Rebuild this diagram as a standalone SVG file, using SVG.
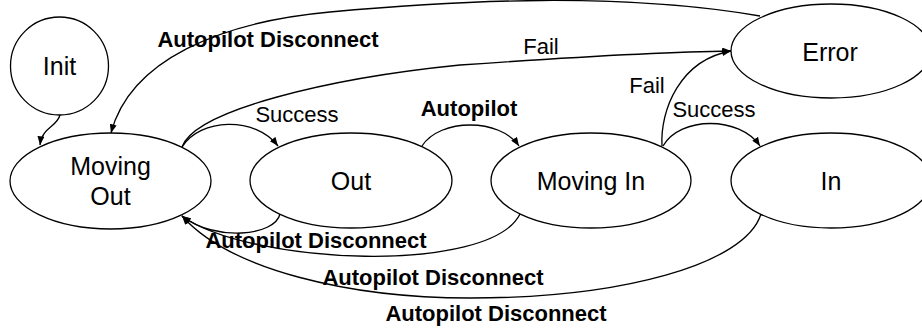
<svg xmlns="http://www.w3.org/2000/svg" width="922" height="329" viewBox="0 0 922 329">
<style>
  .node { fill: #ffffff; stroke: #000000; stroke-width: 1.3; }
  .ntext { font-family: "Liberation Sans", Arial, Helvetica, sans-serif; font-size: 25px; fill: #000000; text-anchor: middle; }
  .edge { fill: none; stroke: #000000; stroke-width: 1.3; }
  .lbl { font-family: "Liberation Sans", Arial, Helvetica, sans-serif; font-size: 22px; fill: #000000; text-anchor: middle; }
  .bold { font-weight: bold; }
</style>
<defs>
  <marker id="arr" viewBox="0 0 10 8" refX="10" refY="4" markerWidth="9" markerHeight="7" orient="auto" markerUnits="userSpaceOnUse">
    <path d="M0,0 L10,4 L0,8 z" fill="#000000"/>
  </marker>
</defs>
<rect width="922" height="329" fill="#ffffff"/>

<g id="node-init">
  <circle class="node" cx="59.5" cy="66" r="49"/>
  <text class="ntext" x="59.5" y="75">Init</text>
</g>
<g id="node-moving-out">
  <ellipse class="node" cx="110.5" cy="181" rx="100.5" ry="48"/>
  <text class="ntext" x="110.5" y="175">Moving</text>
  <text class="ntext" x="110.5" y="205">Out</text>
</g>
<g id="node-out">
  <ellipse class="node" cx="351" cy="180.5" rx="101" ry="47.5"/>
  <text class="ntext" x="351" y="190">Out</text>
</g>
<g id="node-moving-in">
  <ellipse class="node" cx="591" cy="180.5" rx="100" ry="47.5"/>
  <text class="ntext" x="591" y="190">Moving In</text>
</g>
<g id="node-in">
  <ellipse class="node" cx="831" cy="180.5" rx="100" ry="47.5"/>
  <text class="ntext" x="831" y="190">In</text>
</g>
<g id="node-error">
  <ellipse class="node" cx="831" cy="51" rx="100" ry="47"/>
  <text class="ntext" x="830" y="61">Error</text>
</g>

<g id="connectors">
  <path class="edge" marker-end="url(#arr)" d="M60,115 C57,127 42,127 40,145"/>
  <path class="edge" marker-end="url(#arr)" d="M760,16 C620,-8 460,0 330,12 C220,22 130,60 111,133"/>
  <path class="edge" marker-end="url(#arr)" d="M182,147 C195,110 330,78 460,65 C560,58 650,52 731,51"/>
  <path class="edge" marker-end="url(#arr)" d="M182,147 C200,118 255,116 278,146"/>
  <path class="edge" marker-end="url(#arr)" d="M422,146 C440,118 500,118 519,146"/>
  <path class="edge" marker-end="url(#arr)" d="M662,146 C660,110 680,60 731,51"/>
  <path class="edge" marker-end="url(#arr)" d="M663,146 C680,116 740,116 760,146"/>
  <path class="edge" marker-end="url(#arr)" d="M280,214 C275,236 215,242 182,216"/>
  <path class="edge" marker-end="url(#arr)" d="M520,214 C490,275 250,265 182,216"/>
  <path class="edge" marker-end="url(#arr)" d="M761,214 C745,265 620,298 470,298 C350,298 230,270 182,216"/>

  <text class="lbl bold" x="268" y="47">Autopilot Disconnect</text>
  <text class="lbl" x="541" y="54">Fail</text>
  <text class="lbl" x="297" y="122">Success</text>
  <text class="lbl bold" x="469" y="116">Autopilot</text>
  <text class="lbl" x="647" y="93">Fail</text>
  <text class="lbl" x="714" y="117">Success</text>
  <text class="lbl bold" x="316" y="248">Autopilot Disconnect</text>
  <text class="lbl bold" x="433" y="285">Autopilot Disconnect</text>
  <text class="lbl bold" x="496" y="321">Autopilot Disconnect</text>
</g>
</svg>
